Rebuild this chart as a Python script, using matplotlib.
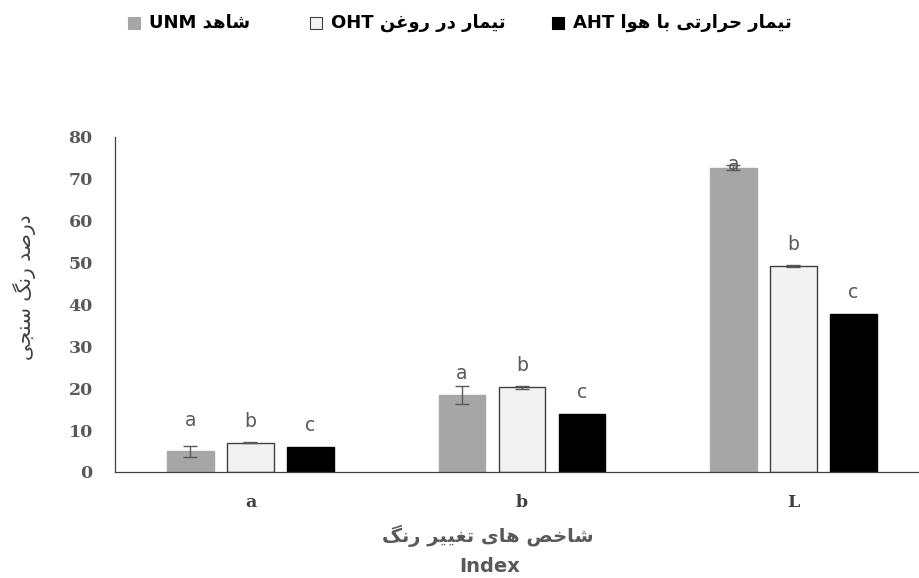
import matplotlib
matplotlib.use("Agg")
import matplotlib.pyplot as plt
from matplotlib.patches import Rectangle
import numpy as np

# ---- data -------------------------------------------------------------
indices = ["a", "b", "L"]
series_codes = ["UNM", "OHT", "AHT"]
series_names = ["شاهد", "تیمار در روغن", "تیمار حرارتی با هوا"]

unm_mean = [4.9, 18.4, 72.6]
unm_err = [1.3, 2.1, 0.6]
oht_mean = [7.0, 20.2, 49.2]
oht_err = [0.2, 0.3, 0.2]
aht_mean = [6.0, 13.9, 37.6]
aht_err = [0.0, 0.0, 0.0]

unm_letters = ["a", "a", "a"]
oht_letters = ["b", "b", "b"]
aht_letters = ["c", "c", "c"]

y_ticks = [0, 10, 20, 30, 40, 50, 60, 70, 80]

y_title = "درصد رنگ سنجی"
x_title = "شاخص های تغییر رنگ"
x_title_en = "Index"

# ---- minimal Arabic/Persian shaping (matplotlib draws glyphs unshaped) ----
# char -> (isolated, final, initial, medial); None means the letter never joins forward
FORMS = {
    "ا": ("\uFE8D", "\uFE8E", None, None),
    "ب": ("\uFE8F", "\uFE90", "\uFE91", "\uFE92"),
    "ت": ("\uFE95", "\uFE96", "\uFE97", "\uFE98"),
    "ج": ("\uFE9D", "\uFE9E", "\uFE9F", "\uFEA0"),
    "ح": ("\uFEA1", "\uFEA2", "\uFEA3", "\uFEA4"),
    "خ": ("\uFEA5", "\uFEA6", "\uFEA7", "\uFEA8"),
    "د": ("\uFEA9", "\uFEAA", None, None),
    "ر": ("\uFEAD", "\uFEAE", None, None),
    "ز": ("\uFEAF", "\uFEB0", None, None),
    "س": ("\uFEB1", "\uFEB2", "\uFEB3", "\uFEB4"),
    "ش": ("\uFEB5", "\uFEB6", "\uFEB7", "\uFEB8"),
    "ص": ("\uFEB9", "\uFEBA", "\uFEBB", "\uFEBC"),
    "غ": ("\uFECD", "\uFECE", "\uFECF", "\uFED0"),
    "م": ("\uFEE1", "\uFEE2", "\uFEE3", "\uFEE4"),
    "ن": ("\uFEE5", "\uFEE6", "\uFEE7", "\uFEE8"),
    "ه": ("\uFEE9", "\uFEEA", "\uFEEB", "\uFEEC"),
    "و": ("\uFEED", "\uFEEE", None, None),
    "ی": ("\uFBFC", "\uFBFD", "\uFBFE", "\uFBFF"),
    "گ": ("\uFB92", "\uFB93", "\uFB94", "\uFB95"),
}


def _joins_forward(ch):
    return ch in FORMS and FORMS[ch][2] is not None


def rtl(text):
    out = []
    for i, ch in enumerate(text):
        if ch not in FORMS:
            out.append(ch)
            continue
        prev = text[i - 1] if i > 0 else ""
        nxt = text[i + 1] if i + 1 < len(text) else ""
        from_prev = _joins_forward(prev)
        to_next = _joins_forward(ch) and nxt in FORMS
        iso, fin, ini, med = FORMS[ch]
        if from_prev and to_next:
            out.append(med)
        elif from_prev:
            out.append(fin)
        elif to_next:
            out.append(ini)
        else:
            out.append(iso)
    return "".join(out)[::-1]


# ---- styling ----------------------------------------------------------
colors = ["#A6A6A6", "#F2F2F2", "#000000"]
edges = ["#A6A6A6", "#404040", "#000000"]
text_gray = "#595959"
axis_color = "#404040"

W, H = 919, 578
fig = plt.figure(figsize=(W / 100, H / 100), dpi=100)
ax = fig.add_axes([115 / W, 1 - 472 / H, (W - 115) / W, (472 - 136.7) / H])

x = np.arange(len(indices))
offset = 0.221
width = 0.172
means = [unm_mean, oht_mean, aht_mean]
errs = [unm_err, oht_err, aht_err]
letters = [unm_letters, oht_letters, aht_letters]

# baseline offset (pixels) of the significance letters above each bar
letter_gap = np.full((3, 3), 16.0)
letter_gap[0, 0] = 25.0
letter_gap[0, 2] = -2.0

for s in range(3):
    xs = x + (s - 1) * offset
    ax.bar(xs, means[s], width, color=colors[s], edgecolor=edges[s],
           linewidth=1.0, zorder=2)
    e = np.asarray(errs[s])
    shown = e > 0
    if shown.any():
        ax.errorbar(xs[shown], np.asarray(means[s])[shown], yerr=e[shown], fmt="none",
                    ecolor="#595959", elinewidth=1.0, capsize=5, capthick=1.0, zorder=3)
    for g in range(3):
        ax.annotate(letters[s][g], (xs[g], means[s][g]),
                    xytext=(0, letter_gap[s, g] * 0.72), textcoords="offset points",
                    ha="center", va="baseline", fontsize=13.5, color=text_gray,
                    family="DejaVu Sans", zorder=4)

ax.set_xlim(-0.499, -0.499 + (W - 115) / 271.5)
ax.set_ylim(0, 80)
ax.set_yticks(y_ticks)
ax.set_xticks(x)
ax.set_xticklabels(indices)

for side in ("top", "right"):
    ax.spines[side].set_visible(False)
for side in ("left", "bottom"):
    ax.spines[side].set_color(axis_color)
    ax.spines[side].set_linewidth(0.9)

ax.tick_params(axis="both", length=0)
ax.tick_params(axis="y", pad=16)
ax.tick_params(axis="x", pad=16)
for lab in ax.get_yticklabels():
    lab.set_fontfamily("DejaVu Serif")
    lab.set_fontweight("bold")
    lab.set_fontsize(12.5)
    lab.set_color(text_gray)
for lab in ax.get_xticklabels():
    lab.set_fontfamily("DejaVu Serif")
    lab.set_fontweight("bold")
    lab.set_fontsize(12.5)
    lab.set_color(axis_color)

# axis titles
fig.text(24 / W, 1 - 287 / H, rtl(y_title), rotation=90, ha="center", va="center",
         fontsize=14.5, color="#404040", family="DejaVu Sans")
fig.text(488 / W, 1 - 536 / H, rtl(x_title), ha="center", va="center",
         fontsize=14, fontweight="bold", color=text_gray, family="DejaVu Sans")
fig.text(490 / W, 1 - 566 / H, x_title_en, ha="center", va="center",
         fontsize=14, fontweight="bold", color=text_gray, family="DejaVu Sans")

# legend row across the top
legend_x = [128, 310, 552]
legend_y = 23
for s in range(3):
    lx = legend_x[s]
    fig.patches.append(Rectangle((lx / W, 1 - (legend_y + 6) / H), 12 / W, 12 / H,
                                 transform=fig.transFigure, facecolor=colors[s],
                                 edgecolor=edges[s] if s != 0 else colors[s],
                                 linewidth=0.8))
    fig.text((lx + 21) / W, 1 - legend_y / H, f"{series_codes[s]} {rtl(series_names[s])}",
             ha="left", va="center", fontsize=13, fontweight="bold", color="#000000",
             family="DejaVu Sans")

fig.savefig("out.png", dpi=100)
